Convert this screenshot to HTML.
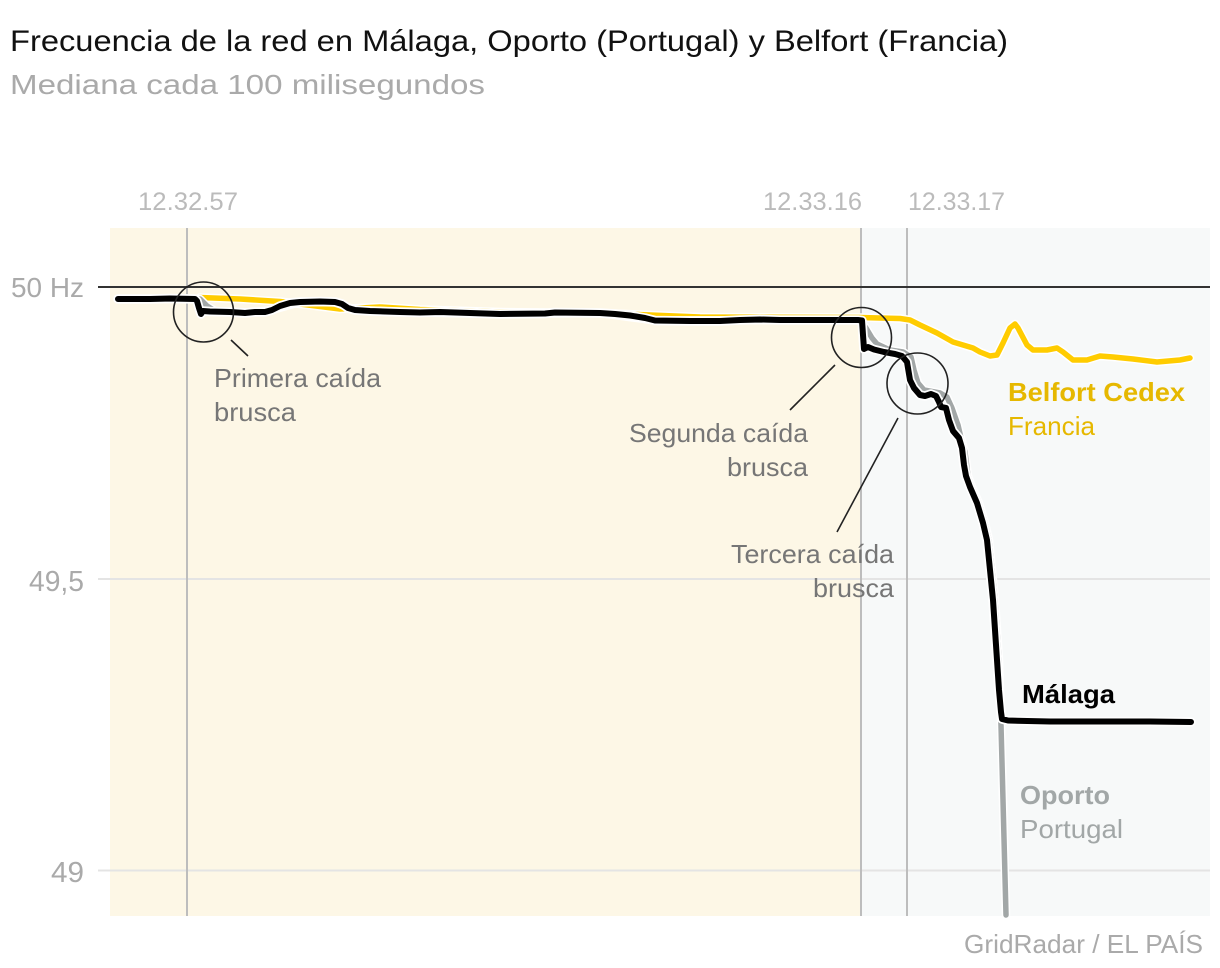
<!DOCTYPE html>
<html>
<head>
<meta charset="utf-8">
<style>
html,body{margin:0;padding:0;background:#fff;}
svg{display:block;}
text{font-family:"Liberation Sans",sans-serif;}
</style>
</head>
<body>
<svg width="1220" height="968" viewBox="0 0 1220 968" xmlns="http://www.w3.org/2000/svg">
  <!-- title -->
  <text x="10" y="51" font-size="30" fill="#111" textLength="998" lengthAdjust="spacingAndGlyphs">Frecuencia de la red en Málaga, Oporto (Portugal) y Belfort (Francia)</text>
  <text x="10" y="94" font-size="28" fill="#aaaaaa" textLength="475" lengthAdjust="spacingAndGlyphs">Mediana cada 100 milisegundos</text>

  <!-- backgrounds -->
  <rect x="110" y="228" width="751" height="688" fill="#fdf7e6"/>
  <rect x="861" y="228" width="349" height="688" fill="#f7f9f9"/>

  <!-- gridlines -->
  <line x1="98" y1="579" x2="1210" y2="579" stroke="#e4e4e4" stroke-width="2"/>
  <line x1="98" y1="870.5" x2="1210" y2="870.5" stroke="#e4e4e4" stroke-width="2"/>

  <!-- vertical time lines -->
  <line x1="187" y1="228" x2="187" y2="916" stroke="#bdbdbd" stroke-width="2"/>
  <line x1="861" y1="228" x2="861" y2="916" stroke="#bdbdbd" stroke-width="2"/>
  <line x1="907" y1="228" x2="907" y2="916" stroke="#bdbdbd" stroke-width="2"/>

  <!-- 50 Hz line -->
  <line x1="98" y1="287" x2="1210" y2="287" stroke="#333" stroke-width="2"/>

  <!-- y labels -->
  <text x="84" y="297" font-size="28" fill="#aaaaaa" text-anchor="end" textLength="73" lengthAdjust="spacingAndGlyphs">50 Hz</text>
  <text x="84" y="591" font-size="29" fill="#aaaaaa" text-anchor="end" textLength="55" lengthAdjust="spacingAndGlyphs">49,5</text>
  <text x="84" y="882" font-size="29" fill="#aaaaaa" text-anchor="end" textLength="33" lengthAdjust="spacingAndGlyphs">49</text>

  <!-- top tick labels -->
  <text x="138" y="210" font-size="25" fill="#bbbbbb" textLength="100" lengthAdjust="spacingAndGlyphs">12.32.57</text>
  <text x="763" y="210" font-size="25" fill="#bbbbbb" textLength="99" lengthAdjust="spacingAndGlyphs">12.33.16</text>
  <text x="908" y="210" font-size="25" fill="#bbbbbb" textLength="97" lengthAdjust="spacingAndGlyphs">12.33.17</text>

  <g fill="none" stroke-linejoin="round" stroke-linecap="round">
    <!-- Belfort (yellow) -->
    <polyline stroke="#fff" stroke-width="8.5" points="200,297.5 240,299 280,301.5 300,304 340,309 380,307 420,309.5 500,312 600,313 700,317 860,317.5 880,318 900,318.5 910,320 920,325 937,333 953,342 973,348 980,352 990,356 997,355 1003,343 1010,328 1015,324 1018,328 1027,345 1033,350 1047,350 1057,348 1063,352 1073,360 1087,360 1100,356 1113,357 1133,359 1157,362 1180,360 1190,358"/>
    <polyline stroke="#ffcc00" stroke-width="5.5" points="200,297.5 240,299 280,301.5 300,304 340,309 380,307 420,309.5 500,312 600,313 700,317 860,317.5 880,318 900,318.5 910,320 920,325 937,333 953,342 973,348 980,352 990,356 997,355 1003,343 1010,328 1015,324 1018,328 1027,345 1033,350 1047,350 1057,348 1063,352 1073,360 1087,360 1100,356 1113,357 1133,359 1157,362 1180,360 1190,358"/>

    <!-- Oporto (gray) -->
    <polyline stroke="#fff" stroke-width="8.5" points="195,299 200,299 207,306 215,311 245,313 272,310 300,302 335,302 355,310 420,312.5 500,314 600,313 655,320.5 860,320 866,328 872,338 877,344 890,350 903,352 911,357 914,370 918,383 924,390 940,393 947,397 952,408 958,425 961,438 965,452 968,476 972,487 979,503 985,523 989,540 992,570 995,600 997,630 999,660 1000,690 1001,725 1003,800 1006,915"/>
    <polyline stroke="#a2a7a7" stroke-width="5.5" points="195,299 200,299 207,306 215,311 245,313 272,310 300,302 335,302 355,310 420,312.5 500,314 600,313 655,320.5 860,320 866,328 872,338 877,344 890,350 903,352 911,357 914,370 918,383 924,390 940,393 947,397 952,408 958,425 961,438 965,452 968,476 972,487 979,503 985,523 989,540 992,570 995,600 997,630 999,660 1000,690 1001,725 1003,800 1006,915"/>

    <!-- Málaga (black) -->
    <polyline stroke="#fff" stroke-width="9.5" points="118,299 150,299 170,298.5 195,299 197,301 199,308 201,314 203,311 210,311.5 230,312 245,313 255,312 265,312 272,310 280,306 290,303 300,302 320,301.5 335,302 342,304 348,308 355,310 370,311 400,312 420,312.5 440,312 470,313 500,314 545,313.5 555,312.5 600,313 615,314 630,315.5 645,318 655,320.5 690,321 720,321 740,320 760,319.5 780,320 820,320 858,320 862,320.5 863,335 864,349 868,347 874,349.5 884,352 895,354 902,356 907,362 910,380 914,388 920,395 925,396 931,394 936,396 939,402 941,407 946,408 949,420 953,431 959,438 962,448 964,465 966,476 970,487 977,503 983,523 987,540 990,570 993,600 995,630 997,660 999,690 1001,712 1002,719 1008,720.5 1050,721.5 1100,721.5 1150,721.5 1191,722"/>
    <polyline stroke="#000" stroke-width="6" points="118,299 150,299 170,298.5 195,299 197,301 199,308 201,314 203,311 210,311.5 230,312 245,313 255,312 265,312 272,310 280,306 290,303 300,302 320,301.5 335,302 342,304 348,308 355,310 370,311 400,312 420,312.5 440,312 470,313 500,314 545,313.5 555,312.5 600,313 615,314 630,315.5 645,318 655,320.5 690,321 720,321 740,320 760,319.5 780,320 820,320 858,320 862,320.5 863,335 864,349 868,347 874,349.5 884,352 895,354 902,356 907,362 910,380 914,388 920,395 925,396 931,394 936,396 939,402 941,407 946,408 949,420 953,431 959,438 962,448 964,465 966,476 970,487 977,503 983,523 987,540 990,570 993,600 995,630 997,660 999,690 1001,712 1002,719 1008,720.5 1050,721.5 1100,721.5 1150,721.5 1191,722"/>
  </g>

  <!-- circles -->
  <circle cx="203.5" cy="312" r="30" fill="none" stroke="#222" stroke-width="1.6"/>
  <circle cx="861.5" cy="337.5" r="30" fill="none" stroke="#222" stroke-width="1.6"/>
  <circle cx="917.5" cy="383.5" r="30.5" fill="none" stroke="#222" stroke-width="1.6"/>

  <!-- leader lines -->
  <line x1="231" y1="340" x2="248" y2="356" stroke="#222" stroke-width="1.6"/>
  <line x1="835" y1="365" x2="790" y2="410" stroke="#222" stroke-width="1.6"/>
  <line x1="898" y1="418" x2="837" y2="532" stroke="#222" stroke-width="1.6"/>

  <!-- annotations -->
  <g font-size="26" fill="#767676">
    <text x="214" y="387" textLength="167" lengthAdjust="spacingAndGlyphs">Primera caída</text>
    <text x="214" y="421" textLength="82" lengthAdjust="spacingAndGlyphs">brusca</text>
    <text x="629" y="442" textLength="179" lengthAdjust="spacingAndGlyphs">Segunda caída</text>
    <text x="727" y="476" textLength="81" lengthAdjust="spacingAndGlyphs">brusca</text>
    <text x="731" y="563" textLength="163" lengthAdjust="spacingAndGlyphs">Tercera caída</text>
    <text x="813" y="597" textLength="81" lengthAdjust="spacingAndGlyphs">brusca</text>
  </g>

  <!-- series labels -->
  <text x="1008" y="401" font-size="26" font-weight="bold" fill="#e6b800" textLength="177" lengthAdjust="spacingAndGlyphs">Belfort Cedex</text>
  <text x="1008" y="435" font-size="26" fill="#e6b800" textLength="87" lengthAdjust="spacingAndGlyphs">Francia</text>
  <text x="1022" y="703" font-size="26" font-weight="bold" fill="#000" textLength="93" lengthAdjust="spacingAndGlyphs">Málaga</text>
  <text x="1020" y="804" font-size="26" font-weight="bold" fill="#a2a7a7" textLength="90" lengthAdjust="spacingAndGlyphs">Oporto</text>
  <text x="1020" y="838" font-size="26" fill="#a2a7a7" textLength="103" lengthAdjust="spacingAndGlyphs">Portugal</text>

  <!-- source -->
  <text x="1203" y="953" font-size="26" fill="#aaaaaa" text-anchor="end" textLength="239" lengthAdjust="spacingAndGlyphs">GridRadar / EL PAÍS</text>
</svg>
</body>
</html>
